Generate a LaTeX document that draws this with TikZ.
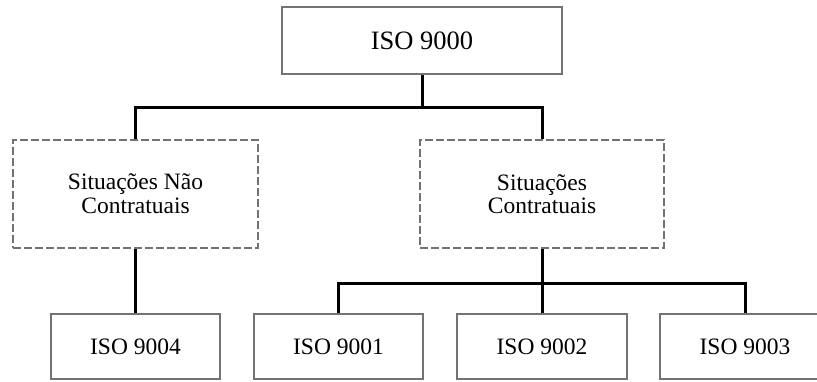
\documentclass[tikz,border=0pt]{standalone}
\usepackage{fontspec}
\setmainfont{Liberation Serif}
\begin{document}
\begin{tikzpicture}[x=1pt,y=-1pt,
  box/.style={draw=black!55, line width=2pt, fill=white, align=center,
    inner sep=0pt, font=\fontsize{23.5}{23.5}\selectfont},
  topbox/.style={box, font=\fontsize{26.5}{26.5}\selectfont},
  dbox/.style={box, dash pattern=on 8pt off 3pt, font=\fontsize{23.5}{23.5}\selectfont},
  link/.style={draw=black, line width=3pt}]
  \useasboundingbox (0,0) rectangle (817,381);
  \clip (0,0) rectangle (817,381);
  % root
  \node[topbox, minimum width=280pt, minimum height=67pt] (iso9000) at (422,40.5) {ISO 9000};
  % situation groups
  \node[dbox, minimum width=245pt, minimum height=108pt] (nao) at (135.5,194) {Situações Não\\[0.5pt]Contratuais};
  \node[dbox, minimum width=244pt, minimum height=108pt] (contr) at (542,194) {Situações\\[0pt]Contratuais};
  % standards
  \node[box, minimum width=169pt, minimum height=65pt] (iso9004) at (135.5,346.5) {ISO 9004};
  \node[box, minimum width=169pt, minimum height=65pt] (iso9001) at (338.5,346.5) {ISO 9001};
  \node[box, minimum width=170pt, minimum height=65pt] (iso9002) at (542,346.5) {ISO 9002};
  \node[box, minimum width=170pt, minimum height=65pt] (iso9003) at (745,346.5) {ISO 9003};
  % bus lines
  \coordinate (busA) at (422,107);
  \coordinate (busB) at (542,283);
  \draw[link] (iso9000.south) -- (busA);
  \draw[link] (nao.north) |- (busA) -| (contr.north);
  \draw[link] (nao.south) -- (iso9004.north);
  \draw[link] (contr.south) -- (iso9002.north);
  \draw[link] (iso9001.north) |- (busB) -| (iso9003.north);
\end{tikzpicture}
\end{document}
